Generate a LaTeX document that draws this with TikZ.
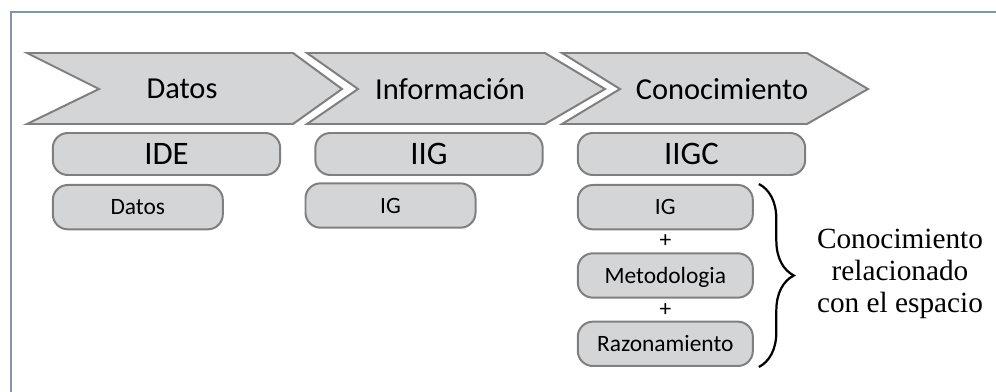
\documentclass[tikz,border=0pt]{standalone}
\usepackage{fontspec}
\setsansfont{Carlito}
\newfontfamily\notefont{Liberation Serif}
\usetikzlibrary{calc,positioning,decorations.pathreplacing}

\definecolor{chevgray}{HTML}{D3D5D7}
\definecolor{edgegray}{HTML}{7F7F7F}
\definecolor{framecol}{HTML}{8296AA}

\begin{document}
\begin{tikzpicture}[
    x=0.03cm, y=-0.03cm,
    chev/.style={draw=edgegray, fill=chevgray, line width=1.7pt, line join=miter},
    chevtext/.style={font=\sffamily\fontsize{26}{30}\selectfont},
    bigpill/.style={draw=edgegray, fill=chevgray, line width=1.7pt, rounded corners=0.45cm, minimum width=6.82cm, minimum height=1.26cm, inner sep=0pt, text height=20pt, text depth=2pt, font=\sffamily\fontsize{28}{32}\selectfont},
    pill/.style={draw=edgegray, fill=chevgray, line width=1.7pt, rounded corners=0.45cm, minimum width=5.1cm, minimum height=1.33cm, inner sep=0pt, text height=15pt, text depth=2pt, font=\sffamily\fontsize{20}{24}\selectfont},
    kpill/.style={pill, minimum width=5.25cm},
    plus/.style={inner sep=0pt, font=\sffamily\fontsize{20}{24}\selectfont},
    note/.style={align=center, inner sep=0pt, font=\notefont\fontsize{25}{27.3}\selectfont}
]
\useasboundingbox (0,0) rectangle (996,392);
\draw[framecol, line width=1.2pt] (11,392) -- (11,12) -- (996,12);

% stages
\draw[chev] (27,53) -- (293,53) -- (342,89) -- (293,124) -- (27,124) -- (99,89) -- cycle;
\draw[chev] (307,53) -- (545,53) -- (605,89) -- (545,124) -- (307,124) -- (358,89) -- cycle;
\draw[chev] (562,53) -- (807,53) -- (868,89) -- (807,124) -- (562,124) -- (620,89) -- cycle;
\node[chevtext] (datosc) at (182,89) {Datos};
\node[chevtext] (infoc) at (450,89) {Información};
\node[chevtext] (conoc) at (722,89) {Conocimiento};

% infrastructures
\node[bigpill] (ide) at (166.5,154) {IDE};
\node[bigpill] (iig) at (429,154) {IIG};
\node[bigpill] (iigc) at (691.5,154) {IIGC};

\node[pill, anchor=north west] (datos) at ([yshift=-0.24cm]ide.south west) {Datos};
\node[pill] (ig) at (390.5,205.5) {IG};
\node[kpill, anchor=north west] (igk) at ([yshift=-0.24cm]iigc.south west) {IG};
\node[kpill, below=0.66cm of igk] (met) {Metodologia};
\node[kpill, below=0.66cm of met] (raz) {Razonamiento};
\node[plus] (p1) at ($(igk.south)!0.5!(met.north)$) {+};
\node[plus] (p2) at ($(met.south)!0.5!(raz.north)$) {+};

\draw[line width=1.9pt, decorate, decoration={brace, amplitude=1.05cm}]
    ([xshift=0.15cm]igk.north east) -- ([xshift=0.15cm]raz.south east);
\node[note] (espacio) at (900,274) {Conocimiento\\relacionado\\con el espacio};
\end{tikzpicture}
\end{document}
